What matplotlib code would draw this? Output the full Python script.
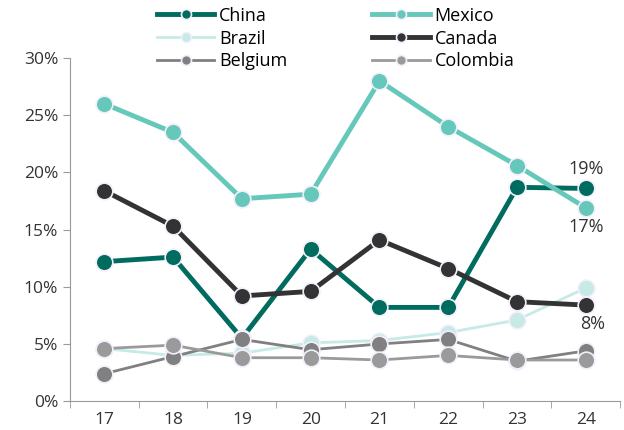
import numpy as np
import matplotlib.pyplot as plt
from matplotlib.ticker import FuncFormatter

plt.rcParams['font.family'] = ['Open Sans', 'DejaVu Sans']

years = [17, 18, 19, 20, 21, 22, 23, 24]
china = [12.2, 12.6, 5.5, 13.3, 8.2, 8.2, 18.7, 18.6]
mexico = [26.0, 23.5, 17.7, 18.1, 28.0, 24.0, 20.6, 16.9]
brazil = [4.6, 4.0, 4.2, 5.1, 5.3, 6.0, 7.1, 9.9]
canada = [18.4, 15.3, 9.2, 9.6, 14.1, 11.6, 8.7, 8.4]
belgium = [2.4, 3.9, 5.4, 4.5, 5.0, 5.4, 3.5, 4.4]
colombia = [4.6, 4.9, 3.8, 3.8, 3.6, 4.0, 3.6, 3.6]

series = [
    ('China', china, '#006b5f', 3.5),
    ('Mexico', mexico, '#66c8ba', 3.5),
    ('Brazil', brazil, '#c6eae6', 2),
    ('Canada', canada, '#333333', 3.5),
    ('Belgium', belgium, '#808080', 2),
    ('Colombia', colombia, '#9a9a9a', 2),
]

fig = plt.figure(figsize=(6.24, 4.3), dpi=100)
ax = fig.add_axes([0.112, 0.067, 0.882, 0.798])

handles = {}
for name, vals, col, lw in series:
    h, = ax.plot(years, vals, color=col, lw=lw, marker='o', ms=12,
                 mfc=col, mec='#f3eefc', mew=1.2, label=name)
    handles[name] = h

# last-point labels
lab = dict(fontsize=13, color='#333333')
ax.text(24, china[-1] + 0.9, f'{round(china[-1])}%', ha='center', va='bottom', **lab)
ax.text(24, mexico[-1] - 0.9, f'{round(mexico[-1])}%', ha='center', va='top', **lab)
ax.text(24.1, canada[-1] - 0.9, f'{round(canada[-1])}%', ha='center', va='top', **lab)

ax.set_xlim(16.5, 24.5)
ax.set_ylim(0, 30)
ax.set_xticks(years)
ax.set_xticks(np.arange(16.5, 25, 1), minor=True)
ax.tick_params(axis='x', which='major', length=0, labelsize=12.5, colors='#333333', pad=8)
ax.tick_params(axis='x', which='minor', length=5, color='#999999')
ax.set_yticks(np.arange(0, 31, 5))
ax.yaxis.set_major_formatter(FuncFormatter(lambda v, p: f'{v:.0f}%'))
ax.tick_params(axis='y', length=5, color='#999999', labelsize=12.5, labelcolor='#333333')
for s in ['top', 'right']:
    ax.spines[s].set_visible(False)
for s in ['left', 'bottom']:
    ax.spines[s].set_color('#999999')

# row-major order in a 2-column legend
order = ['China', 'Brazil', 'Belgium', 'Mexico', 'Canada', 'Colombia']
fig.legend(handles=[handles[n] for n in order], loc='upper left', bbox_to_anchor=(0.228, 1.018), ncol=2,
           frameon=False, fontsize=13, handlelength=3.2, columnspacing=4.7,
           labelspacing=0.27, handletextpad=0.25, markerscale=0.6, borderpad=0.3)

fig.savefig('out.png', dpi=100)
